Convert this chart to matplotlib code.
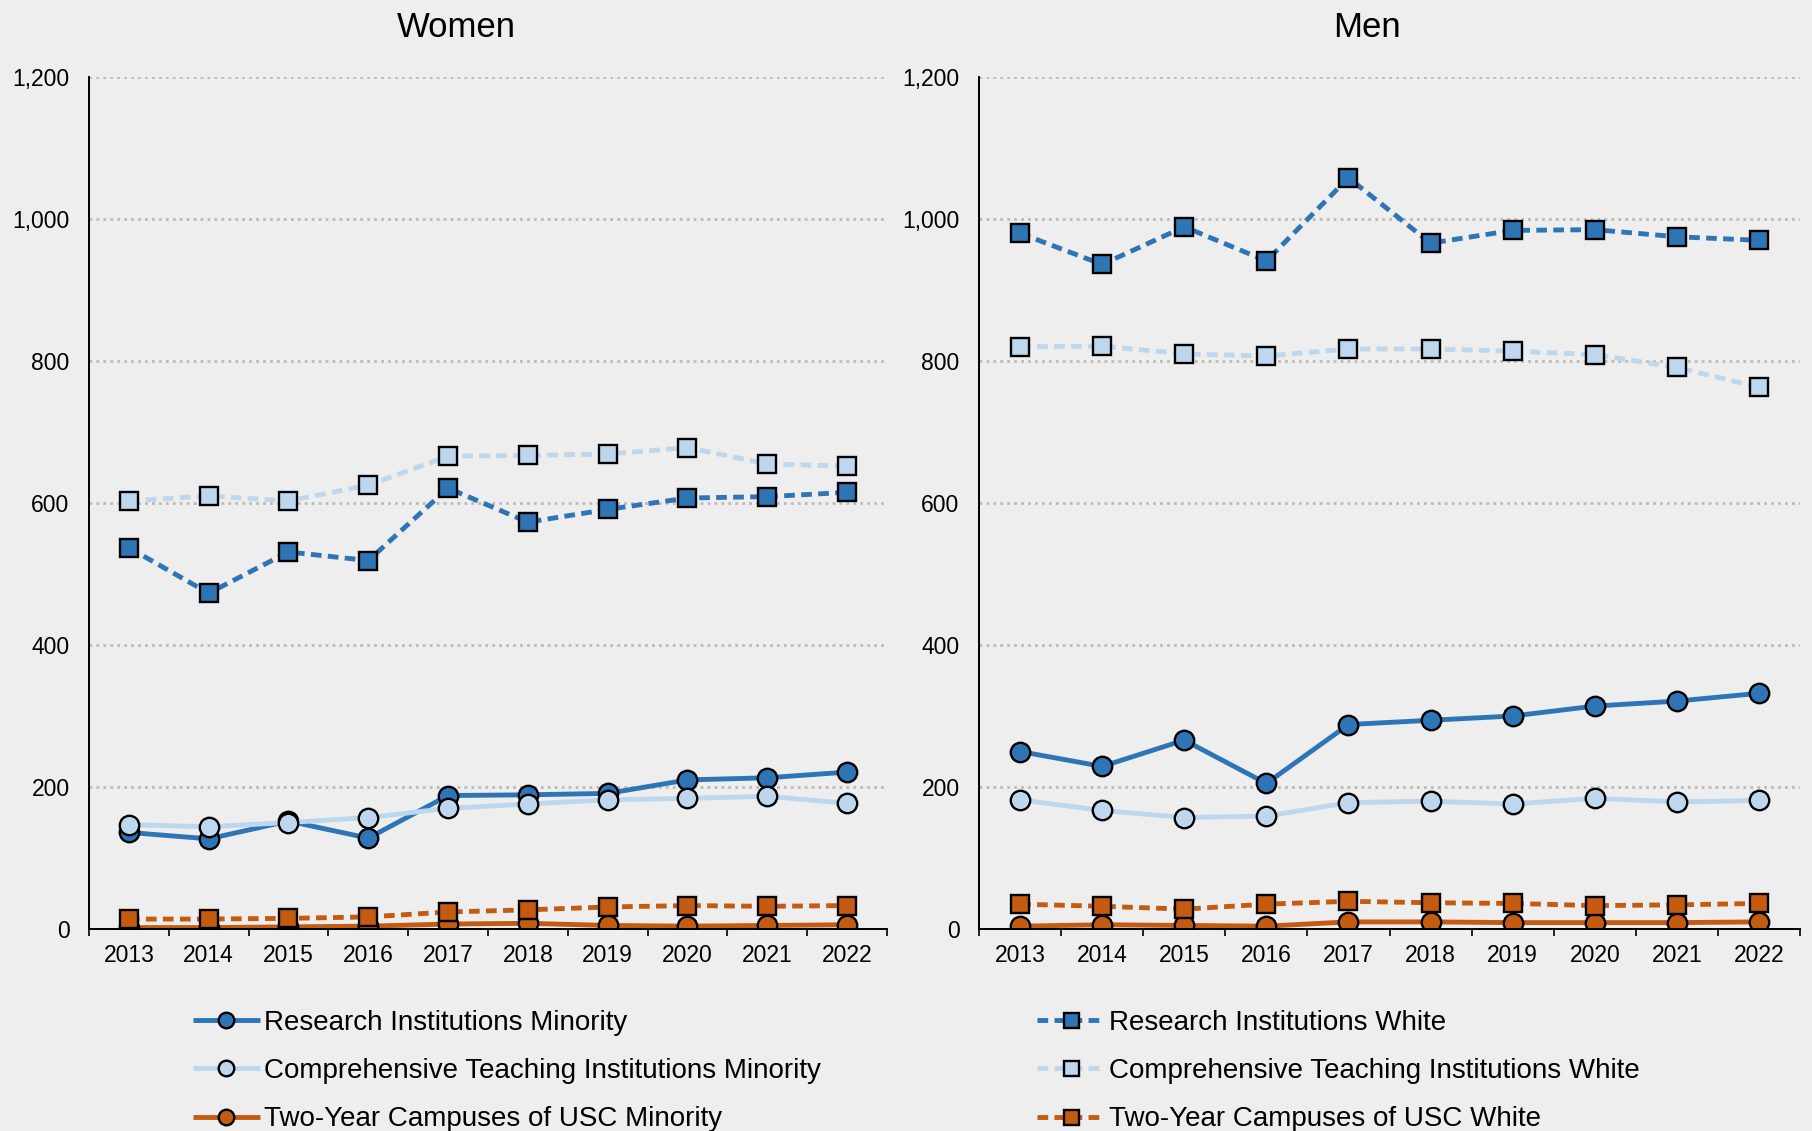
import numpy as np
import matplotlib.pyplot as plt
from matplotlib.ticker import FuncFormatter, FixedLocator

plt.rcParams['font.family'] = ['Liberation Sans', 'DejaVu Sans']

# ==========================================================
# Data
# ==========================================================

years = ["2013", "2014", "2015", "2016", "2017", "2018", "2019", "2020", "2021", "2022"]

# Women
w_research_min = [136, 127, 152, 128, 188, 189, 191, 210, 213, 221]
w_comp_min = [147, 144, 150, 157, 170, 176, 182, 184, 187, 177]
w_twoyear_min = [2, 2, 3, 4, 7, 8, 5, 4, 5, 6]
w_research_white = [537, 473, 531, 519, 621, 573, 591, 607, 609, 615]
w_comp_white = [603, 610, 603, 625, 666, 667, 669, 678, 655, 652]
w_twoyear_white = [14, 14, 15, 17, 24, 27, 31, 33, 32, 33]

# Men
m_research_min = [250, 229, 266, 205, 288, 294, 300, 314, 321, 332]
m_comp_min = [182, 167, 157, 159, 178, 180, 176, 184, 179, 181]
m_twoyear_min = [4, 6, 5, 4, 10, 10, 9, 9, 9, 10]
m_research_white = [980, 936, 989, 941, 1058, 966, 984, 985, 975, 970]
m_comp_white = [820, 821, 810, 807, 817, 817, 814, 809, 791, 763]
m_twoyear_white = [35, 32, 28, 35, 39, 37, 36, 33, 34, 36]

labels_min = ["Research Institutions Minority",
              "Comprehensive Teaching Institutions Minority",
              "Two-Year Campuses of USC Minority"]
labels_white = ["Research Institutions White",
                "Comprehensive Teaching Institutions White",
                "Two-Year Campuses of USC White"]

# ==========================================================
# Styling
# ==========================================================

dark_blue = "#2E75B6"
light_blue = "#BDD7EE"
orange = "#C55A11"
bg = "#EEEEEE"
colors = [dark_blue, light_blue, orange]

fig = plt.figure(figsize=(18.12, 11.31), dpi=100)
fig.patch.set_facecolor(bg)

ax_w = fig.add_axes([0.0491, 0.1786, 0.4404, 0.7533])
ax_m = fig.add_axes([0.5403, 0.1786, 0.4531, 0.7533])

x = np.arange(len(years))


def draw_panel(ax, mins, whites):
    ax.set_facecolor(bg)
    lines_min = []
    lines_white = []
    for vals, c in zip(mins, colors):
        ln, = ax.plot(x, vals, color=c, linewidth=3.5, marker="o",
                      markersize=14, markerfacecolor=c,
                      markeredgecolor="black", markeredgewidth=1.7,
                      solid_capstyle="butt")
        lines_min.append(ln)
    for vals, c in zip(whites, colors):
        ln, = ax.plot(x, vals, color=c, linewidth=3.5, marker="s",
                      markersize=13.5, markerfacecolor=c,
                      markeredgecolor="black", markeredgewidth=1.7,
                      linestyle=(0, (2.2, 1.3)))
        lines_white.append(ln)

    ax.set_xlim(-0.5, len(years) - 0.5)
    ax.set_ylim(0, 1200)
    ax.set_yticks(np.arange(0, 1201, 200))
    ax.yaxis.set_major_formatter(FuncFormatter(lambda v, p: f"{int(v):,}"))
    ax.set_xticks(x)
    ax.set_xticklabels(years)
    ax.xaxis.set_minor_locator(FixedLocator(np.arange(-0.5, len(years), 1)))
    ax.tick_params(axis="x", which="major", length=0, pad=11, labelsize=16.5)
    ax.tick_params(axis="x", which="minor", length=5, width=1.2, direction="out")
    ax.tick_params(axis="y", length=0, pad=14, labelsize=16.5)

    ax.grid(True, axis="y", color="#BBBBBB", linestyle=(0, (1, 1.5)), linewidth=2)
    ax.set_axisbelow(True)
    for s in ["top", "right"]:
        ax.spines[s].set_visible(False)
    for s in ["left", "bottom"]:
        ax.spines[s].set_color("black")
        ax.spines[s].set_linewidth(1.4)
    return lines_min, lines_white


lm, lw = draw_panel(ax_w, [w_research_min, w_comp_min, w_twoyear_min],
                    [w_research_white, w_comp_white, w_twoyear_white])
draw_panel(ax_m, [m_research_min, m_comp_min, m_twoyear_min],
           [m_research_white, m_comp_white, m_twoyear_white])

fig.text(0.252, 0.9755, "Women", fontsize=25, ha="center", va="center")
fig.text(0.7545, 0.9755, "Men", fontsize=25, ha="center", va="center")

# ==========================================================
# Legends
# ==========================================================

leg_kw = dict(loc="upper left", frameon=False, fontsize=20,
              handlelength=2.4, handletextpad=0.17, labelspacing=0.8,
              borderpad=0, borderaxespad=0, markerscale=0.8)

fig.legend(lm, labels_min, bbox_to_anchor=(0.1065, 0.107), **leg_kw)
fig.legend(lw, labels_white, bbox_to_anchor=(0.5725, 0.107), **leg_kw)

fig.savefig("out.png", dpi=100, facecolor=bg)
